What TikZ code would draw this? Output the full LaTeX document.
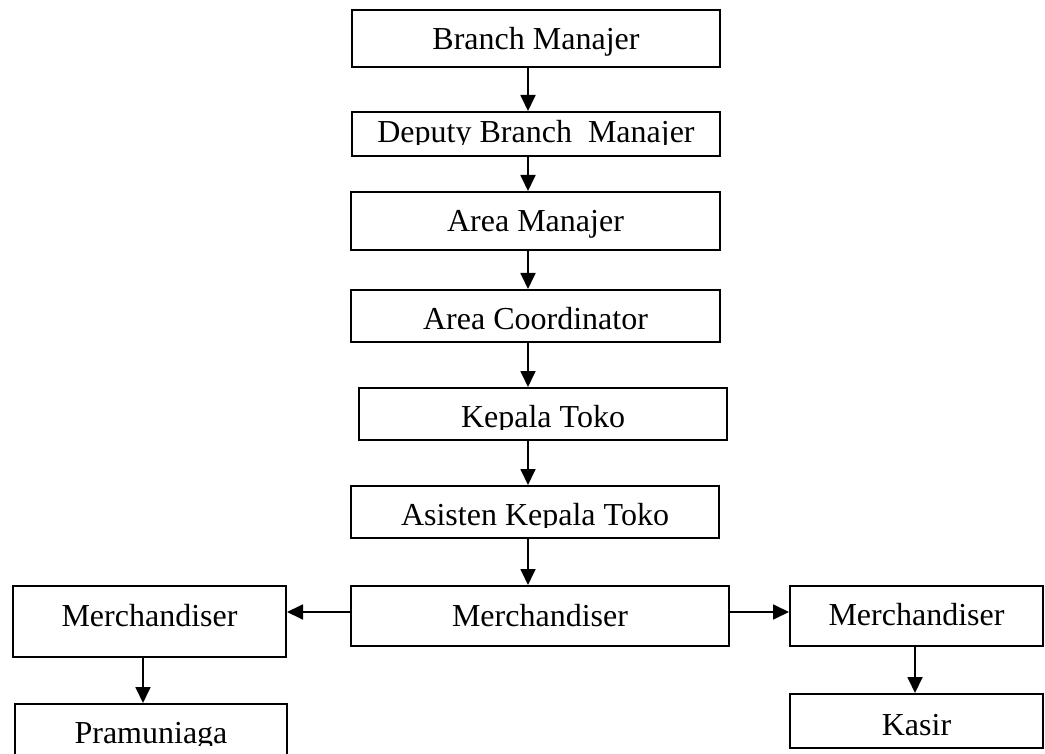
\documentclass[tikz,border=0pt]{standalone}
\usepackage{fontspec}
\setmainfont{Liberation Serif}
\usetikzlibrary{arrows.meta}
% name, x1, y1, x2, y2, baseline, text
\newcommand\obox[7]{%
  \node[orgbox, minimum width={#4-#2}, minimum height={#5-#3}] (#1) at ({(#2+#4)/2},{(#3+#5)/2}) {};
  \node[lbl] (#1t) at (#1.center |- 0,#6) {#7};
}
% same, with the text clipped at a given y (8th argument)
\newcommand\cbox[8]{%
  \node[orgbox, minimum width={#4-#2}, minimum height={#5-#3}] (#1) at ({(#2+#4)/2},{(#3+#5)/2}) {};
  \begin{scope}
    \clip (#1.north west) rectangle (#1.east |- 0,#8);
    \node[lbl] (#1t) at (#1.center |- 0,#6) {#7};
  \end{scope}
}
\begin{document}
\begin{tikzpicture}[x=1pt,y=-1pt,
  orgbox/.style={draw, line width=2pt, inner sep=0pt},
  lbl/.style={font=\fontsize{32}{36}\selectfont, inner sep=0pt, anchor=base},
  arr/.style={line width=1.8pt, -{Triangle[length=16pt,width=15pt]}}]
\clip (0,0) rectangle (1045,754);

\obox{BM}{352}{10}{720}{67}{50}{Branch Manajer}
\cbox{DBM}{352}{112}{720}{156}{143}{Deputy Branch\ \ Manajer}{145}
\obox{AM}{351}{192}{720}{250}{232}{Area Manajer}
\obox{AC}{351}{290}{720}{342}{330}{Area Coordinator}
\cbox{KT}{359}{388}{727}{440}{427}{Kepala Toko}{429}
\cbox{AKT}{351}{486}{719}{538}{525}{Asisten Kepala Toko}{527}
\obox{MC}{351}{586}{729}{646}{626}{Merchandiser}
\obox{ML}{13}{586}{286}{657}{626}{Merchandiser}
\cbox{PR}{15}{704}{287}{770}{743}{Pramuniaga}{745}
\obox{MR}{790}{586}{1043}{646}{625}{Merchandiser}
\obox{KA}{790}{694}{1043}{748}{735}{Kasir}

\coordinate (axm) at (528,0);
\coordinate (axl) at (143,0);
\coordinate (axr) at (915,0);
\coordinate (hy) at (0,612);

\draw[arr] (axm |- BM.south) -- (axm |- DBM.north);
\draw[arr] (axm |- DBM.south) -- (axm |- AM.north);
\draw[arr] (axm |- AM.south) -- (axm |- AC.north);
\draw[arr] (axm |- AC.south) -- (axm |- KT.north);
\draw[arr] (axm |- KT.south) -- (axm |- AKT.north);
\draw[arr] (axm |- AKT.south) -- (axm |- MC.north);
\draw[arr] (hy -| MC.west) -- (hy -| ML.east);
\draw[arr] (hy -| MC.east) -- (hy -| MR.west);
\draw[arr] (axl |- ML.south) -- (axl |- PR.north);
\draw[arr] (axr |- MR.south) -- (axr |- KA.north);
\end{tikzpicture}
\end{document}
